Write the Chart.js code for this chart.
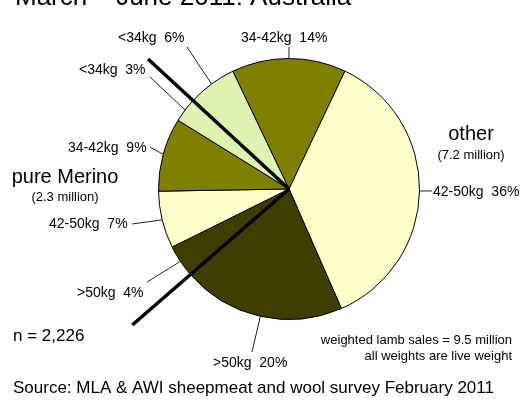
<!DOCTYPE html>
<html>
<head>
<meta charset="utf-8">
<script src="https://cdn.jsdelivr.net/npm/chart.js@4.4.1/dist/chart.umd.min.js"></script>
<style>
  html, body { margin: 0; padding: 0; background: #fff; }
  #wrap { width: 528px; height: 400px; position: relative; }
</style>
</head>
<body>
<div id="wrap"><canvas id="lambChart" width="528" height="400"></canvas></div>
<script>
// slices, clockwise from the top
const weightClasses = ['34-42kg', '42-50kg', '>50kg', '>50kg', '42-50kg', '34-42kg', '<34kg', '<34kg'];
const breedGroups = ['other', 'other', 'other', 'pure Merino', 'pure Merino', 'pure Merino', 'pure Merino', 'other'];
const salesShare = [14, 36, 20, 4, 7, 9, 3, 6];
const groupTotals = ['(7.2 million)', '(2.3 million)'];

const sliceColors = ['#7f7f00', '#ffffcc', '#3f3e00', '#3f3e00', '#ffffcc', '#7f7f00', '#dff2b0', '#dff2b0'];

// where each slice label sits, and where its leader line ends
const labelSpots = [
    {x: 241, y: 38, lx: 289, ly: 47},
    {x: 433, y: 192, lx: 432, ly: 191},
    {x: 213, y: 363, lx: 252, ly: 352},
    {x: 77, y: 293, lx: 147, ly: 282},
    {x: 49, y: 224, lx: 132, ly: 224},
    {x: 68, y: 148, lx: 150, ly: 147},
    {x: 79, y: 70, lx: 150, ly: 77},
    {x: 118, y: 38, lx: 187, ly: 47},
];

const FONT = '"Liberation Sans", Arial, Helvetica, sans-serif';

function text(ctx, str, x, y, size, align, baseline) {
    ctx.font = size + 'px ' + FONT;
    ctx.textAlign = align || 'left';
    ctx.textBaseline = baseline || 'middle';
    ctx.fillText(str, x, y);
}

const annotations = {
    id: 'annotations',
    afterDatasetsDraw(chart) {
        const ctx = chart.ctx;
        const arcs = chart.getDatasetMeta(0).data;
        ctx.save();
        ctx.fillStyle = '#000';

        // leader lines + slice labels
        ctx.strokeStyle = '#222';
        ctx.lineWidth = 1;
        arcs.forEach((arc, i) => {
            const mid = (arc.startAngle + arc.endAngle) / 2;
            const px = arc.x + arc.outerRadius * Math.cos(mid);
            const py = arc.y + arc.outerRadius * Math.sin(mid);
            const s = labelSpots[i];
            ctx.beginPath();
            ctx.moveTo(px, py);
            ctx.lineTo(s.lx, s.ly);
            ctx.stroke();
            text(ctx, weightClasses[i] + '  ' + salesShare[i] + '%', s.x, s.y, 14);
        });

        // thick lines splitting pure Merino from other
        ctx.strokeStyle = '#000';
        ctx.lineWidth = 3.5;
        [[6, 1.47], [2, 1.59]].forEach(([i, len]) => {
            const arc = arcs[i];
            const a = arc.endAngle;
            ctx.beginPath();
            ctx.moveTo(arc.x, arc.y);
            ctx.lineTo(arc.x + arc.outerRadius * len * Math.cos(a), arc.y + arc.outerRadius * len * Math.sin(a));
            ctx.stroke();
        });

        text(ctx, breedGroups[3], 65, 177, 20, 'center');
        text(ctx, groupTotals[1], 65, 197, 13, 'center');
        text(ctx, breedGroups[0], 471, 134, 20, 'center');
        text(ctx, groupTotals[0], 471, 155, 13, 'center');

        text(ctx, 'March \u2013 June 2011: Australia', 15, 4.5, 26, 'left', 'alphabetic');
        text(ctx, 'n = 2,226', 13, 336, 17);
        text(ctx, 'weighted lamb sales = 9.5 million', 512, 340, 13, 'right');
        text(ctx, 'all weights are live weight', 512, 356, 13, 'right');
        text(ctx, 'Source: MLA & AWI sheepmeat and wool survey February 2011', 13, 388, 17);
        ctx.restore();
    }
};

const chart = new Chart(document.getElementById('lambChart'), {
    type: 'pie',
    data: {
        labels: weightClasses.map((w, i) => breedGroups[i] + ' ' + w),
        datasets: [{
            data: salesShare,
            backgroundColor: sliceColors,
            borderColor: '#000',
            borderWidth: 1,
            hoverOffset: 0,
        }]
    },
    options: {
        responsive: false,
        animation: false,
        rotation: -25.5,
        layout: {padding: {left: 158, right: 108, top: 58, bottom: 80}},
        plugins: {
            legend: {display: false},
            title: {display: false},
            tooltip: {enabled: false},
        },
    },
    plugins: [annotations],
});
</script>
</body>
</html>
